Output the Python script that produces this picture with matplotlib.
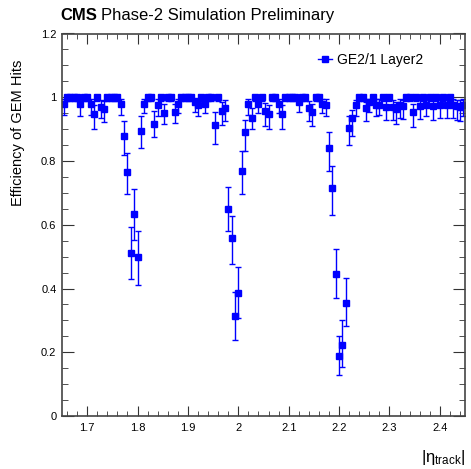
import numpy as np
import matplotlib
matplotlib.use('Agg')
import matplotlib.pyplot as plt
from matplotlib.lines import Line2D
from matplotlib.ticker import MultipleLocator, FuncFormatter

plt.rcParams['font.family'] = ['Liberation Sans', 'DejaVu Sans']
plt.rcParams['mathtext.default'] = 'regular'

# binning in |eta| (120 bins from 1.65 to 2.45)
eta_edges = np.linspace(1.65, 2.45, 121)

eff = [0.978, 1.0, 1.0, 1.0, 1.0, 0.978, 1.0, 1.0, 0.978, 0.946,
       1.0, 0.970, 0.962, 1.0, 1.0, 1.0, 1.0, 0.978, 0.880, 0.767,
       0.512, 0.634, 0.500, 0.895, 0.980, 1.0, 1.0, 0.915, 0.975, 1.0,
       0.950, 1.0, 1.0, 0.955, 0.980, 1.0, 1.0, 1.0, 1.0, 0.985,
       0.975, 1.0, 0.980, 1.0, 1.0, 0.913, 1.0, 0.957, 0.965, 0.650,
       0.557, 0.313, 0.387, 0.770, 0.890, 0.978, 0.936, 1.0, 0.980, 1.0,
       0.957, 0.946, 1.0, 1.0, 0.980, 0.946, 1.0, 1.0, 1.0, 1.0,
       0.984, 1.0, 1.0, 0.967, 0.955, 1.0, 1.0, 0.980, 0.975, 0.840,
       0.714, 0.447, 0.187, 0.222, 0.355, 0.903, 0.936, 0.976, 1.0, 1.0,
       0.965, 0.984, 1.0, 0.975, 0.975, 1.0, 0.970, 1.0, 0.970, 0.963,
       0.975, 0.973, 1.0, 1.0, 0.953, 1.0, 0.973, 1.0, 0.975, 1.0,
       0.973, 1.0, 0.975, 1.0, 0.975, 1.0, 0.975, 0.973, 0.970, 0.975]

err_lo = [0.035, 0.012, 0.012, 0.012, 0.012, 0.038, 0.012, 0.012, 0.035, 0.046,
          0.012, 0.035, 0.040, 0.012, 0.012, 0.012, 0.012, 0.035, 0.060, 0.070,
          0.082, 0.083, 0.090, 0.055, 0.030, 0.012, 0.012, 0.040, 0.035, 0.012,
          0.033, 0.012, 0.012, 0.035, 0.030, 0.012, 0.012, 0.012, 0.012, 0.030,
          0.035, 0.012, 0.030, 0.012, 0.012, 0.060, 0.012, 0.045, 0.040, 0.070,
          0.080, 0.075, 0.080, 0.073, 0.060, 0.035, 0.035, 0.012, 0.030, 0.012,
          0.047, 0.046, 0.012, 0.012, 0.030, 0.046, 0.012, 0.012, 0.012, 0.012,
          0.030, 0.012, 0.012, 0.040, 0.045, 0.012, 0.012, 0.030, 0.035, 0.070,
          0.082, 0.077, 0.057, 0.068, 0.073, 0.053, 0.056, 0.035, 0.012, 0.012,
          0.038, 0.030, 0.012, 0.035, 0.030, 0.012, 0.040, 0.012, 0.040, 0.047,
          0.040, 0.040, 0.012, 0.012, 0.045, 0.012, 0.040, 0.012, 0.035, 0.012,
          0.045, 0.012, 0.040, 0.012, 0.040, 0.012, 0.040, 0.045, 0.045, 0.035]

err_hi = [0.015, 0.0, 0.0, 0.0, 0.0, 0.015, 0.0, 0.0, 0.015, 0.030,
          0.0, 0.020, 0.025, 0.0, 0.0, 0.0, 0.0, 0.015, 0.045, 0.058,
          0.080, 0.078, 0.080, 0.045, 0.015, 0.0, 0.0, 0.043, 0.018, 0.0,
          0.030, 0.0, 0.0, 0.025, 0.015, 0.0, 0.0, 0.0, 0.0, 0.012,
          0.018, 0.0, 0.015, 0.0, 0.0, 0.040, 0.0, 0.028, 0.025, 0.068,
          0.070, 0.075, 0.080, 0.060, 0.040, 0.015, 0.030, 0.0, 0.015, 0.0,
          0.025, 0.030, 0.0, 0.0, 0.015, 0.030, 0.0, 0.0, 0.0, 0.0,
          0.012, 0.0, 0.0, 0.020, 0.025, 0.0, 0.0, 0.015, 0.018, 0.050,
          0.070, 0.076, 0.063, 0.078, 0.078, 0.037, 0.024, 0.016, 0.0, 0.0,
          0.020, 0.012, 0.0, 0.018, 0.018, 0.0, 0.020, 0.0, 0.020, 0.022,
          0.018, 0.018, 0.0, 0.0, 0.027, 0.0, 0.018, 0.0, 0.018, 0.0,
          0.018, 0.0, 0.018, 0.0, 0.018, 0.0, 0.018, 0.018, 0.020, 0.018]

eta = 0.5 * (eta_edges[:-1] + eta_edges[1:])

fig = plt.figure(figsize=(4.71, 4.69), dpi=100)
ax = fig.add_axes([62 / 471, 1 - 416 / 469, 403 / 471, 382.5 / 469])

ax.errorbar(eta, eff, yerr=[err_lo, err_hi], fmt='s', color='blue',
            ms=5, lw=1, capsize=2, capthick=1, elinewidth=1)

ax.set_xlim(1.65, 2.45)
ax.set_ylim(0, 1.2)

ax.xaxis.set_major_locator(MultipleLocator(0.1))
ax.xaxis.set_minor_locator(MultipleLocator(0.02))
ax.yaxis.set_major_locator(MultipleLocator(0.2))
ax.yaxis.set_minor_locator(MultipleLocator(0.05))
fmt = FuncFormatter(lambda v, p: '%g' % round(v, 3))
ax.xaxis.set_major_formatter(fmt)
ax.yaxis.set_major_formatter(fmt)

ax.tick_params(which='both', direction='in', top=True, right=True,
               labelsize=8, color='#333333')
ax.tick_params(axis='x', which='major', length=7, pad=5)
ax.tick_params(axis='x', which='minor', length=3.5)
ax.tick_params(axis='y', which='major', length=8.5, pad=4)
ax.tick_params(axis='y', which='minor', length=4.3)
for s in ax.spines.values():
    s.set_color('#444444')
    s.set_linewidth(1.2)

handle = Line2D([], [], color='blue', marker='s', ms=5, lw=1)
ax.legend([handle], ['GE2/1 Layer2'], loc='center left',
          bbox_to_anchor=(0.635, 0.931), frameon=False, fontsize=10,
          handlelength=1.0, handletextpad=0.4, borderpad=0, borderaxespad=0)

fig.text(18 / 471, 1 - 60 / 469, 'Efficiency of GEM Hits', rotation=90,
         ha='center', va='top', fontsize=10.5)
fig.text(465 / 471, 1 - 467 / 469, r'$|\eta_{track}|$', ha='right',
         va='bottom', fontsize=12)

fig.text(60 / 471, 1 - 20 / 469, 'CMS', fontsize=12, fontweight='bold',
         ha='left', va='baseline')
fig.text(101 / 471, 1 - 20 / 469, 'Phase-2 Simulation Preliminary',
         fontsize=12, ha='left', va='baseline')

fig.savefig('out.png', dpi=100)
